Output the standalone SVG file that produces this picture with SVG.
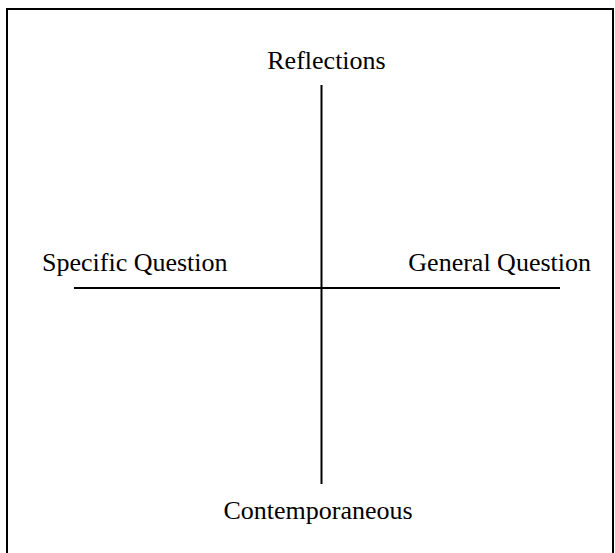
<svg xmlns="http://www.w3.org/2000/svg" width="615" height="553" viewBox="0 0 615 553">
<style>
.lbl{font-family:"Liberation Serif","Times New Roman",serif;font-size:26px;fill:#000}
.ax{stroke:#000;stroke-width:2;fill:none}
</style>
<rect x="0" y="0" width="615" height="553" fill="#fff"/>
<rect id="frame" x="7" y="9" width="606" height="560" fill="none" stroke="#000" stroke-width="2"/>
<g id="connectors">
<line class="ax" x1="321.5" y1="85" x2="321.5" y2="484"/>
<line class="ax" x1="74" y1="288" x2="560" y2="288"/>
</g>
<g id="reflections"><text class="lbl" x="326.5" y="69" text-anchor="middle">Reflections</text></g>
<g id="specific"><text class="lbl" x="42" y="271">Specific Question</text></g>
<g id="general"><text class="lbl" x="591" y="271" text-anchor="end">General Question</text></g>
<g id="contemporaneous"><text class="lbl" x="318" y="519" text-anchor="middle">Contemporaneous</text></g>
</svg>
